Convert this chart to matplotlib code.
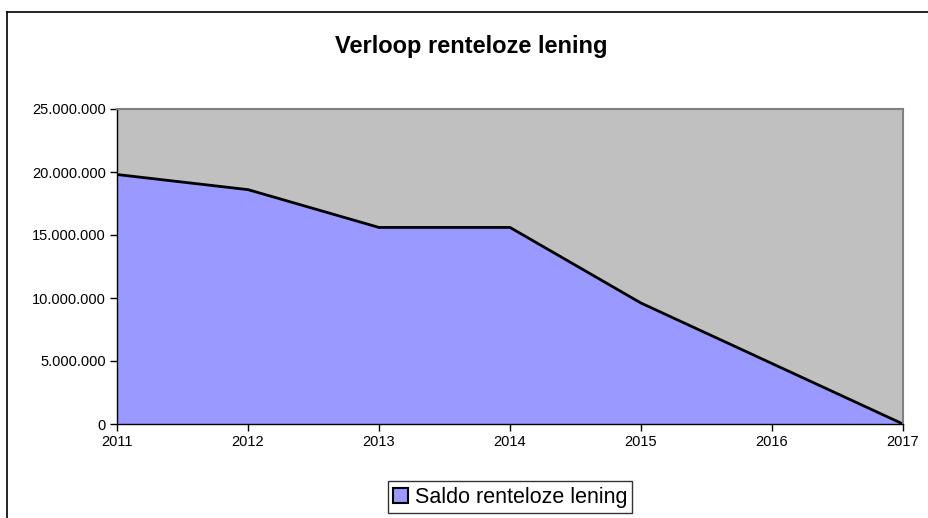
import matplotlib.pyplot as plt
from matplotlib.patches import Patch
from matplotlib.lines import Line2D
from matplotlib.ticker import FuncFormatter

years = [2011, 2012, 2013, 2014, 2015, 2016, 2017]
saldo = [19800000, 18600000, 15600000, 15600000, 9600000, 4800000, 0]

plt.rcParams['font.family'] = ['Liberation Sans', 'DejaVu Sans']

fig = plt.figure(figsize=(9.29, 5.18), dpi=100)
ax = fig.add_axes([117 / 929, 1 - 424 / 518, (903 - 117) / 929, (424 - 109) / 518])
ax.set_facecolor('#C0C0C0')

ax.fill_between(years, saldo, 0, color='#9999FF', linewidth=0)
ax.plot(years, saldo, color='black', linewidth=2, solid_joinstyle='miter')

ax.set_xlim(years[0], years[-1])
ax.set_ylim(0, 25000000)
ax.set_xticks(years)
ax.set_yticks(range(0, 25000001, 5000000))
ax.yaxis.set_major_formatter(FuncFormatter(lambda v, p: f"{int(v):,}".replace(',', '.')))
ax.tick_params(axis='both', direction='out', length=5, width=1, labelsize=10.5, colors='black', pad=3)
ax.tick_params(axis='x', pad=3)

for s in ['top', 'right']:
    ax.spines[s].set_color('#808080')
    ax.spines[s].set_linewidth(1.5)
for s in ['left', 'bottom']:
    ax.spines[s].set_color('black')
    ax.spines[s].set_linewidth(1)

fig.text(471 / 929, 1 - 47 / 518, 'Verloop renteloze lening', ha='center', va='center',
         fontsize=17, fontweight='bold')

handle = Patch(facecolor='#9999FF', edgecolor='black', linewidth=1.5)
fig.legend([handle], ['Saldo renteloze lening'], loc='center', bbox_to_anchor=(510 / 929, 0.04),
           fontsize=15.5, frameon=True, fancybox=False, edgecolor='black', handlelength=0.7,
           handleheight=0.7, handletextpad=0.3, borderpad=0.25, borderaxespad=0)

# outer chart frame
fig.add_artist(Line2D([7 / 929, 7 / 929], [0, 1 - 12 / 518], color='black', linewidth=1.2))
fig.add_artist(Line2D([7 / 929, 1], [1 - 12 / 518, 1 - 12 / 518], color='black', linewidth=1.2))

fig.savefig('out.png', dpi=100)
